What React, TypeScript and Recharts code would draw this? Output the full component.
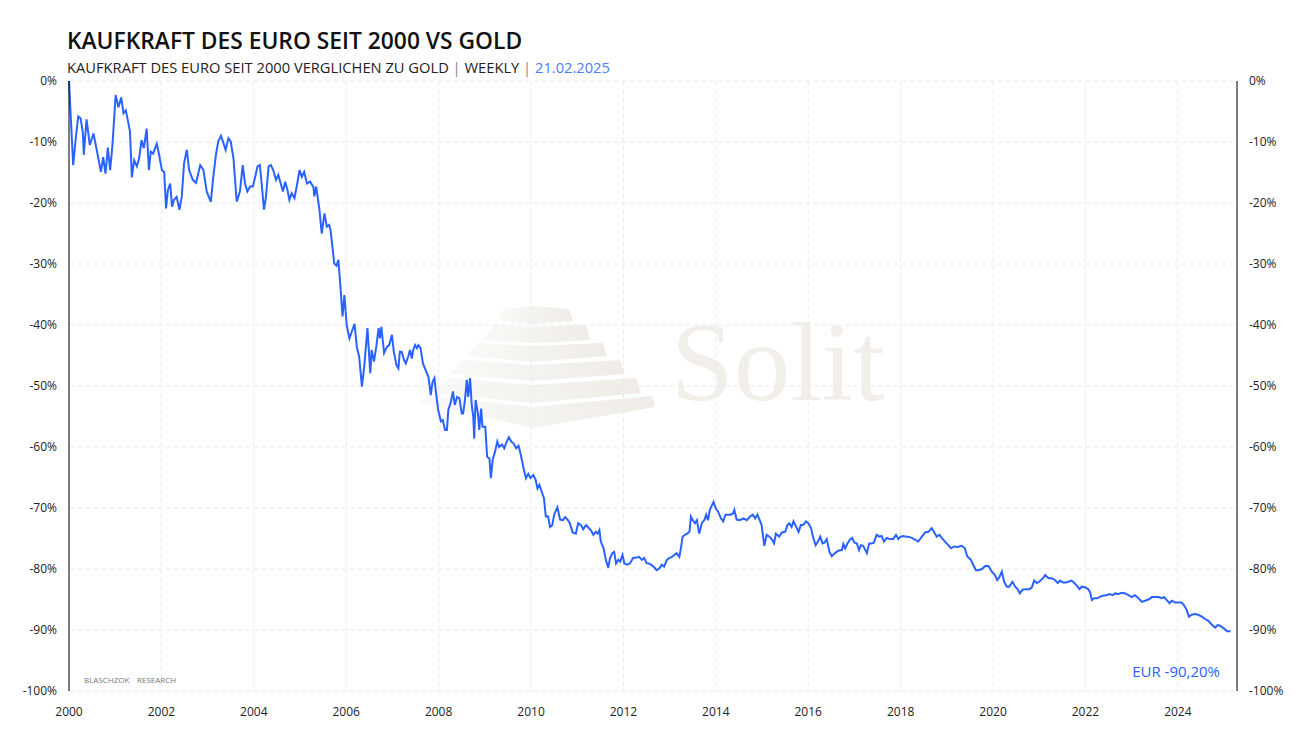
import { CartesianGrid, Line, LineChart, XAxis, YAxis } from 'recharts'

// decimal year of each sample, one row per year
const weeks = [
  2000.0, 2000.09, 2000.15, 2000.2, 2000.25, 2000.3, 2000.32, 2000.38, 2000.45, 2000.53, 2000.6, 2000.69, 2000.74, 2000.79, 2000.84, 2000.89, 2000.94,
  2001.01, 2001.07, 2001.13, 2001.18, 2001.23, 2001.28, 2001.32, 2001.36, 2001.41, 2001.47, 2001.52, 2001.57, 2001.62, 2001.68, 2001.73, 2001.77, 2001.82, 2001.9, 2001.95,
  2002.01, 2002.06, 2002.1, 2002.14, 2002.19, 2002.23, 2002.27, 2002.33, 2002.39, 2002.44, 2002.49, 2002.55, 2002.6, 2002.68, 2002.75, 2002.84, 2002.91, 2002.98,
  2003.07, 2003.12, 2003.18, 2003.23, 2003.29, 2003.34, 2003.39, 2003.45, 2003.5, 2003.56, 2003.63, 2003.7, 2003.76, 2003.81, 2003.86, 2003.92, 2003.98,
  2004.03, 2004.08, 2004.13, 2004.17, 2004.22, 2004.26, 2004.32, 2004.37, 2004.42, 2004.48, 2004.53, 2004.59, 2004.63, 2004.68, 2004.73, 2004.77, 2004.82, 2004.88, 2004.94, 2004.99,
  2005.04, 2005.09, 2005.15, 2005.22, 2005.29, 2005.31, 2005.35, 2005.42, 2005.47, 2005.53, 2005.58, 2005.63, 2005.66, 2005.71, 2005.74, 2005.79, 2005.83, 2005.87, 2005.92, 2005.96,
  2006.01, 2006.07, 2006.12, 2006.18, 2006.23, 2006.28, 2006.34, 2006.39, 2006.46, 2006.52, 2006.55, 2006.6, 2006.65, 2006.7, 2006.73, 2006.76, 2006.82, 2006.88, 2006.93, 2006.99,
  2007.03, 2007.09, 2007.13, 2007.16, 2007.2, 2007.25, 2007.29, 2007.34, 2007.38, 2007.42, 2007.45, 2007.49, 2007.53, 2007.56, 2007.61, 2007.66, 2007.73, 2007.78, 2007.83, 2007.87, 2007.91, 2007.94, 2007.99,
  2008.05, 2008.09, 2008.14, 2008.18, 2008.21, 2008.26, 2008.31, 2008.35, 2008.4, 2008.45, 2008.5, 2008.53, 2008.57, 2008.61, 2008.64, 2008.68, 2008.72, 2008.75, 2008.77, 2008.8, 2008.85, 2008.88, 2008.92, 2008.95,
  2009.01, 2009.05, 2009.1, 2009.13, 2009.17, 2009.22, 2009.27, 2009.31, 2009.37, 2009.42, 2009.47, 2009.52, 2009.57, 2009.62, 2009.68, 2009.73, 2009.78, 2009.83, 2009.89, 2009.94, 2009.99,
  2010.05, 2010.1, 2010.14, 2010.18, 2010.23, 2010.28, 2010.32, 2010.37, 2010.41, 2010.46, 2010.5, 2010.57, 2010.63, 2010.69, 2010.74, 2010.79, 2010.84, 2010.9, 2010.97,
  2011.02, 2011.08, 2011.13, 2011.19, 2011.24, 2011.3, 2011.35, 2011.4, 2011.44, 2011.48, 2011.51, 2011.57, 2011.62, 2011.67, 2011.71, 2011.76, 2011.8, 2011.84, 2011.89, 2011.93, 2011.98,
  2012.02, 2012.08, 2012.14, 2012.21, 2012.29, 2012.34, 2012.4, 2012.45, 2012.5, 2012.58, 2012.65, 2012.72, 2012.78, 2012.83, 2012.88, 2012.94, 2012.99,
  2013.05, 2013.1, 2013.15, 2013.21, 2013.25, 2013.28, 2013.33, 2013.38, 2013.43, 2013.46, 2013.5, 2013.55, 2013.59, 2013.64, 2013.7, 2013.75, 2013.79, 2013.83, 2013.87, 2013.95,
  2014.0, 2014.05, 2014.11, 2014.16, 2014.21, 2014.27, 2014.32, 2014.37, 2014.4, 2014.45, 2014.52, 2014.6, 2014.67, 2014.74, 2014.8, 2014.85, 2014.9, 2014.96, 2014.99,
  2015.05, 2015.1, 2015.16, 2015.21, 2015.26, 2015.3, 2015.37, 2015.43, 2015.5, 2015.55, 2015.59, 2015.64, 2015.68, 2015.74, 2015.79, 2015.84, 2015.89, 2015.95,
  2016.0, 2016.06, 2016.11, 2016.16, 2016.21, 2016.26, 2016.31, 2016.35, 2016.4, 2016.46, 2016.51, 2016.58, 2016.65, 2016.73, 2016.76, 2016.8, 2016.85, 2016.9, 2016.95,
  2017.0, 2017.05, 2017.1, 2017.14, 2017.19, 2017.27, 2017.32, 2017.37, 2017.42, 2017.48, 2017.54, 2017.59, 2017.64, 2017.7, 2017.77, 2017.84, 2017.9, 2017.95,
  2018.0, 2018.06, 2018.12, 2018.17, 2018.24, 2018.31, 2018.38, 2018.46, 2018.53, 2018.6, 2018.67, 2018.72, 2018.78, 2018.84, 2018.89, 2018.96,
  2019.03, 2019.09, 2019.16, 2019.23, 2019.32, 2019.39, 2019.44, 2019.52, 2019.57, 2019.63, 2019.68, 2019.76, 2019.83, 2019.9, 2019.97,
  2020.04, 2020.09, 2020.14, 2020.19, 2020.24, 2020.3, 2020.35, 2020.42, 2020.48, 2020.53, 2020.58, 2020.64, 2020.71, 2020.79, 2020.84, 2020.89, 2020.95,
  2021.0, 2021.08, 2021.13, 2021.2, 2021.27, 2021.34, 2021.4, 2021.45, 2021.51, 2021.58, 2021.63, 2021.7, 2021.76, 2021.83, 2021.87, 2021.92, 2021.99,
  2022.06, 2022.1, 2022.14, 2022.19, 2022.25, 2022.3, 2022.37, 2022.45, 2022.52, 2022.59, 2022.64, 2022.71, 2022.79, 2022.86, 2022.93,
  2023.0, 2023.07, 2023.15, 2023.22, 2023.29, 2023.36, 2023.44, 2023.51, 2023.58, 2023.65, 2023.7, 2023.76, 2023.82, 2023.87, 2023.94,
  2024.01, 2024.08, 2024.13, 2024.19, 2024.24, 2024.3, 2024.37, 2024.44, 2024.52, 2024.59, 2024.66, 2024.73, 2024.81, 2024.86, 2024.91, 2024.97, 2025.02, 2025.07, 2025.14,
]

// purchasing power of the euro measured in gold, % change since 2000
const kaufkraft = [
  0, -13.8, -9.1, -5.8, -6.1, -8.5, -12.1, -6.3, -10.5, -8.6, -11.3, -14.9, -12.5, -15.2, -10.9, -14.6, -10.5,
  -2.3, -4.3, -2.7, -5.3, -4.8, -6.7, -8.3, -15.8, -13.0, -14.0, -12.6, -9.7, -11.0, -7.8, -14.6, -11.6, -11.9, -10.3, -12.1,
  -14.6, -14.9, -20.9, -17.9, -16.8, -20.6, -19.5, -19.0, -21.1, -19.0, -13.5, -11.3, -14.6, -16.2, -16.7, -13.8, -14.6, -18.1,
  -19.8, -15.9, -12.1, -9.9, -9.0, -10.1, -11.3, -9.4, -9.9, -12.7, -19.8, -18.1, -13.8, -16.8, -18.1, -17.3, -17.3,
  -15.7, -14.0, -13.8, -16.8, -21.1, -19.2, -14.0, -13.8, -14.6, -16.2, -15.4, -17.0, -18.1, -16.5, -17.9, -19.5, -18.4, -19.2, -16.8, -14.6,
  -15.7, -14.9, -16.8, -16.5, -17.4, -18.9, -17.3, -21.1, -25.0, -21.7, -23.9, -23.6, -24.4, -27.7, -29.9, -30.3, -29.3, -33.2, -38.6, -35.1,
  -40.0, -42.2, -41.1, -39.8, -43.6, -45.2, -50.1, -46.8, -40.5, -47.9, -44.1, -46.0, -43.6, -40.5, -42.2, -40.3, -44.6, -43.6, -43.3, -41.6,
  -44.4, -46.6, -47.1, -44.4, -44.4, -45.7, -46.3, -45.2, -44.1, -45.5, -44.1, -43.3, -43.8, -43.3, -43.8, -46.3, -47.6, -48.5, -51.5, -49.3, -48.7, -50.9, -53.9,
  -55.8, -55.6, -57.2, -57.2, -53.9, -52.8, -50.9, -53.1, -51.8, -52.0, -54.5, -54.5, -52.3, -49.0, -51.8, -48.7, -53.4, -55.0, -58.6, -52.3, -54.5, -57.2, -53.7, -56.7,
  -56.7, -61.6, -61.9, -65.1, -62.1, -60.8, -59.1, -60.0, -59.6, -60.2, -59.2, -58.4, -59.1, -59.4, -60.2, -59.8, -61.3, -63.2, -65.1, -64.4, -65.1,
  -64.6, -65.4, -66.8, -66.2, -67.3, -68.4, -71.4, -71.4, -73.1, -72.8, -71.1, -69.9, -71.9, -72.0, -71.5, -71.9, -72.5, -74.0, -74.2,
  -72.5, -72.8, -73.5, -72.8, -73.2, -73.7, -74.4, -73.9, -74.2, -73.6, -75.5, -76.6, -78.5, -79.8, -78.2, -77.4, -77.2, -79.1, -78.5, -78.8, -77.7,
  -79.1, -79.3, -79.1, -78.2, -78.1, -78.0, -78.5, -78.2, -79.0, -79.2, -79.6, -80.2, -79.9, -79.3, -79.6, -78.5, -78.2,
  -78.0, -77.7, -77.4, -78.0, -76.3, -74.7, -74.4, -74.2, -73.9, -71.4, -72.0, -72.5, -72.0, -74.2, -72.4, -72.0, -71.1, -72.0, -70.3, -69.0,
  -70.1, -70.6, -71.7, -72.2, -71.1, -71.1, -71.1, -70.9, -70.3, -71.9, -72.0, -71.7, -72.0, -71.4, -71.1, -71.7, -71.1, -72.2, -72.8,
  -76.2, -74.4, -74.7, -75.1, -75.8, -74.2, -74.7, -74.0, -73.9, -72.8, -72.5, -73.1, -72.2, -73.1, -73.9, -72.8, -72.8, -72.2,
  -72.5, -73.3, -74.9, -76.1, -75.5, -74.7, -75.8, -75.7, -75.1, -77.2, -77.9, -77.4, -77.0, -76.9, -75.9, -76.6, -75.8, -75.2, -74.9,
  -75.7, -75.8, -76.9, -76.1, -76.2, -77.4, -75.8, -75.8, -75.7, -74.4, -74.7, -74.6, -75.5, -74.9, -75.1, -75.1, -74.4, -75.1,
  -74.7, -74.6, -74.7, -74.7, -74.9, -75.2, -75.5, -74.7, -74.0, -73.9, -73.3, -73.9, -74.7, -74.4, -74.9, -75.5,
  -76.1, -76.6, -76.3, -76.4, -76.2, -76.6, -77.9, -78.5, -79.3, -80.2, -80.2, -80.0, -79.5, -79.5, -80.4,
  -81.0, -81.8, -81.3, -80.4, -82.1, -82.9, -82.9, -82.1, -82.9, -83.3, -84.0, -83.4, -83.3, -83.3, -83.0, -81.9, -82.3,
  -82.1, -81.5, -81.0, -81.5, -81.5, -81.8, -82.3, -81.9, -82.2, -82.2, -82.1, -81.9, -82.3, -82.9, -83.3, -82.9, -83.0,
  -83.3, -83.8, -85.1, -84.8, -84.8, -84.6, -84.4, -84.3, -84.1, -84.3, -84.0, -84.1, -83.9, -84.0, -84.3,
  -84.6, -84.3, -84.8, -85.4, -85.2, -85.0, -84.6, -84.6, -84.6, -84.8, -84.6, -85.1, -85.6, -85.2, -85.5,
  -85.5, -85.5, -85.9, -86.7, -87.8, -87.5, -87.4, -87.5, -87.8, -88.2, -88.5, -89.1, -89.6, -89.2, -89.3, -89.6, -89.9, -90.2, -90.2,
]

const yearTicks = [2000, 2002, 2004, 2006, 2008, 2010, 2012, 2014, 2016, 2018, 2020, 2022, 2024]
const pctTicks = [0, -10, -20, -30, -40, -50, -60, -70, -80, -90, -100]

const data = weeks.map((w, i) => ({ week: w, eur: kaufkraft[i] }))

const BLUE = '#2962ff'
const FONT = '"Open Sans", "Noto Sans", sans-serif'
const tickStyle = { fontSize: 12, fill: '#222', fontFamily: FONT }

function Watermark() {
  const bands = [
    '503,309 533,306 569,309 573,321 533,324 498,321',
    '494,325 533,327 586,325 590,340 533,343 482,340',
    '479,343 533,346 603,343 607,356 533,362 466,356',
    '463,360 533,365 620,360 625,374 533,381 450,374',
    '448,378 533,385 636,378 641,393 533,403 434,393',
    '432,396 533,407 652,396 655,407 533,428 418,402',
  ]
  return (
    <svg width={1307} height={734} style={{ position: 'absolute', left: 0, top: 0 }}>
      <defs>
        <linearGradient id="wm" x1="0" x2="1" y1="0" y2="0">
          <stop offset="0%" stopColor="#faf9f7" />
          <stop offset="100%" stopColor="#efece7" />
        </linearGradient>
      </defs>
      {bands.map((p) => (
        <polygon key={p} points={p} fill="url(#wm)" />
      ))}
      <text x={671} y={400} fontFamily='"Liberation Serif", "DejaVu Serif", serif' fontSize={113} fill="#f2efea">
        Solit
      </text>
    </svg>
  )
}

function Labels() {
  return (
    <svg width={1307} height={734} style={{ position: 'absolute', left: 0, top: 0, pointerEvents: 'none' }}>
      <text x={67} y={49} fontFamily={FONT} fontSize={22.8} fontWeight={600} fill="#111">
        KAUFKRAFT DES EURO SEIT 2000 VS GOLD
      </text>
      <text x={67} y={73} fontFamily={FONT} fontSize={14.7} fill="#222">
        KAUFKRAFT DES EURO SEIT 2000 VERGLICHEN ZU GOLD <tspan fill="#888">|</tspan> WEEKLY{' '}
        <tspan fill="#888">|</tspan> <tspan fill="#4a7dff">21.02.2025</tspan>
      </text>
      <text x={84} y={683} fontFamily={FONT} fontSize={8} fill="#777">
        BLASCHZOK
      </text>
      <text x={137} y={683} fontFamily={FONT} fontSize={8} fill="#777">
        RESEARCH
      </text>
      <text x={1220} y={677} textAnchor="end" fontFamily={FONT} fontSize={15} fill={BLUE}>
        EUR -90,20%
      </text>
    </svg>
  )
}

export default function App() {
  return (
    <div style={{ position: 'absolute', left: 0, top: 0, width: 1307, height: 734, background: '#fff', overflow: 'hidden' }}>
      <Watermark />
      <div style={{ position: 'absolute', left: 0, top: 0 }}>
        <LineChart width={1307} height={734} data={data} margin={{ top: 81, right: 0, bottom: 0, left: 0 }}>
          <CartesianGrid stroke="#ebebeb" strokeDasharray="5 3" />
          <XAxis
            dataKey="week"
            type="number"
            scale="linear"
            domain={[2000, 2025.28]}
            ticks={yearTicks}
            height={43}
            axisLine={false}
            tickLine={false}
            tickMargin={10}
            tick={tickStyle}
          />
          <YAxis
            domain={[-100, 0]}
            ticks={pctTicks}
            width={69}
            axisLine={{ stroke: '#000' }}
            tickLine={false}
            tickMargin={6}
            tick={tickStyle}
            tickFormatter={(v) => `${v}%`}
          />
          <YAxis
            yAxisId="right"
            orientation="right"
            type="number"
            domain={[-100, 0]}
            allowDataOverflow
            ticks={pctTicks}
            width={70}
            axisLine={{ stroke: '#000' }}
            tickLine={false}
            tickMargin={6}
            tick={tickStyle}
            tickFormatter={(v) => `${v}%`}
          />
          <Line
            type="linear"
            dataKey="eur"
            stroke={BLUE}
            strokeWidth={2}
            dot={false}
            activeDot={false}
            isAnimationActive={false}
          />
          <Line
            yAxisId="right"
            type="linear"
            dataKey="eur"
            stroke="none"
            strokeWidth={0}
            dot={false}
            activeDot={false}
            legendType="none"
            isAnimationActive={false}
          />
        </LineChart>
      </div>
      <Labels />
    </div>
  )
}
